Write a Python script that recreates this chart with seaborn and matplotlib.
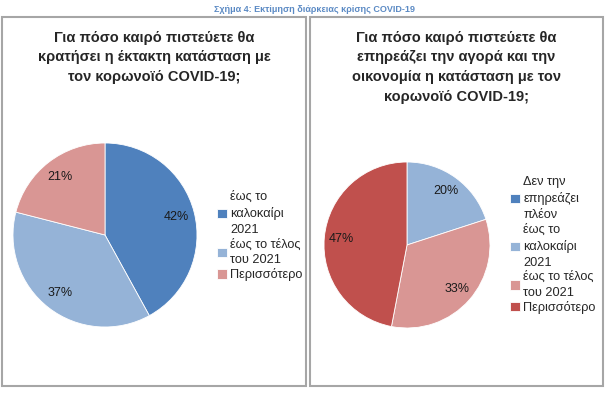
import matplotlib
matplotlib.use('Agg')
import matplotlib.pyplot as plt
import seaborn as sns
from matplotlib.patches import Rectangle

sns.set_theme(style='white')
plt.rcParams['font.family'] = ['Liberation Sans', 'DejaVu Sans']

# data
header = 'Σχήμα 4: Εκτίμηση διάρκειας κρίσης COVID-19'

left_title = 'Για πόσο καιρό πιστεύετε θα\nκρατήσει η έκτακτη κατάσταση με\nτον κορωνοϊό COVID-19;'
left_labels = ['έως το\nκαλοκαίρι\n2021', 'έως το τέλος\nτου 2021', 'Περισσότερο']
left_values = [42, 37, 21]
left_colors = ['#4F81BD', '#95B3D7', '#D99694']

right_title = 'Για πόσο καιρό πιστεύετε θα\nεπηρεάζει την αγορά και την\nοικονομία η κατάσταση με τον\nκορωνοϊό COVID-19;'
right_labels = ['Δεν την\nεπηρεάζει\nπλέον', 'έως το\nκαλοκαίρι\n2021', 'έως το τέλος\nτου 2021', 'Περισσότερο']
right_values = [0, 20, 33, 47]
right_colors = ['#4F81BD', '#95B3D7', '#D99694', '#C0504D']

W, H = 613, 394
fig = plt.figure(figsize=(W / 100, H / 100), dpi=100)
fig.patch.set_facecolor('white')

# panel frames
for x0, x1 in [(2, 306), (310, 603)]:
    fig.add_artist(Rectangle((x0 / W, 1 - 386 / H), (x1 - x0) / W, (386 - 17) / H,
                             transform=fig.transFigure, fill=False,
                             edgecolor='#A6A6A6', linewidth=1.5))

fig.text(314 / W, 1 - 10 / H, header, ha='center', va='center',
         fontsize=6.5, fontweight='bold', color='#5B8AC4')


def pct(p):
    return f'{p:.0f}%' if p > 0.5 else ''


def draw_panel(cx, cy, r, values, labels, colors, title, tx, leg_x, leg_y):
    ax = fig.add_axes([(cx - r) / W, 1 - (cy + r) / H, 2 * r / W, 2 * r / H])
    wedges, _, autotexts = ax.pie(values, colors=colors, startangle=90, counterclock=False,
                                  autopct=pct, pctdistance=0.8, radius=1,
                                  wedgeprops=dict(linewidth=0.6, edgecolor='white'),
                                  textprops=dict(fontsize=9, color='#1a1a1a'))
    ax.set_xlim(-1, 1)
    ax.set_ylim(-1, 1)
    ax.set_aspect('equal')
    ax.axis('off')
    fig.text(tx / W, 1 - 31 / H, title, ha='center', va='top', fontsize=10.5,
             fontweight='bold', linespacing=1.5)
    leg = fig.legend(wedges, labels, loc='center left', bbox_to_anchor=(leg_x / W, 1 - leg_y / H),
                     frameon=False, fontsize=9.2, handlelength=0.75, handleheight=0.75,
                     handletextpad=0.25, labelspacing=0.15, borderpad=0)
    for t in leg.get_texts():
        t.set_linespacing(1.45)


draw_panel(105, 235, 92, left_values, left_labels, left_colors, left_title, 154, 211, 236)
draw_panel(407, 245, 83, right_values, right_labels, right_colors, right_title, 456, 504, 245)

fig.savefig('out.png', dpi=100, facecolor='white')
